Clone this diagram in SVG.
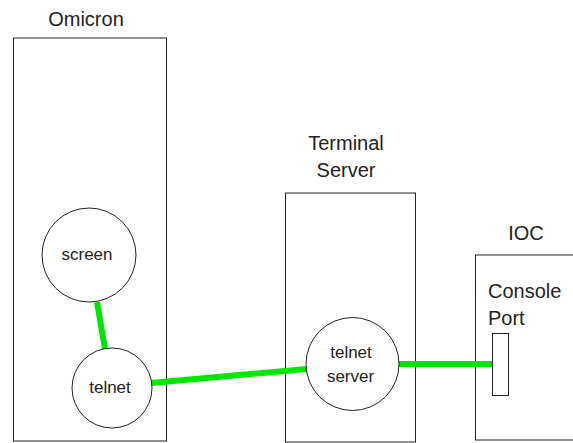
<svg xmlns="http://www.w3.org/2000/svg" width="573" height="443" viewBox="0 0 573 443">
<style>
.box{fill:#fff;stroke:#222;stroke-width:1}
.node{fill:#fff;stroke:#222;stroke-width:1}
.lbl{font-family:"Liberation Sans",Arial,sans-serif;font-size:20px;fill:#222}
.ntxt{font-family:"Liberation Sans",Arial,sans-serif;font-size:17px;fill:#222;text-anchor:middle}
.link{stroke:#00e600;stroke-width:6;fill:none;stroke-linecap:butt}
</style>
<rect width="573" height="443" fill="#fff"/>
<g id="omicron">
<rect class="box" x="13.5" y="38" width="153" height="403"/>
<text class="lbl" x="86" y="26" text-anchor="middle">Omicron</text>
</g>
<g id="terminal-server">
<rect class="box" x="285.5" y="193" width="130" height="249"/>
<text class="lbl" x="346" y="150" text-anchor="middle">Terminal</text>
<text class="lbl" x="346" y="177" text-anchor="middle">Server</text>
</g>
<g id="ioc">
<rect class="box" x="475.5" y="255" width="120" height="185"/>
<text class="lbl" x="526" y="240" text-anchor="middle">IOC</text>
<text class="lbl" x="488" y="298">Console</text>
<text class="lbl" x="488" y="325">Port</text>
</g>
<g id="connectors">
<line class="link" x1="97" y1="302" x2="105" y2="349"/>
<line class="link" x1="151" y1="383" x2="307" y2="369"/>
<line class="link" x1="398" y1="364" x2="493" y2="364"/>
</g>
<g id="screen">
<circle class="node" cx="89" cy="255" r="47"/>
<text class="ntxt" x="87" y="260">screen</text>
</g>
<g id="telnet">
<circle class="node" cx="112" cy="388" r="40"/>
<text class="ntxt" x="110" y="393">telnet</text>
</g>
<g id="telnet-server">
<circle class="node" cx="352.5" cy="364" r="46.5"/>
<text class="ntxt" x="351" y="358">telnet</text>
<text class="ntxt" x="350.5" y="382">server</text>
</g>
<g id="console-port">
<rect class="box" x="492.5" y="333.5" width="16" height="62"/>
</g>
</svg>
